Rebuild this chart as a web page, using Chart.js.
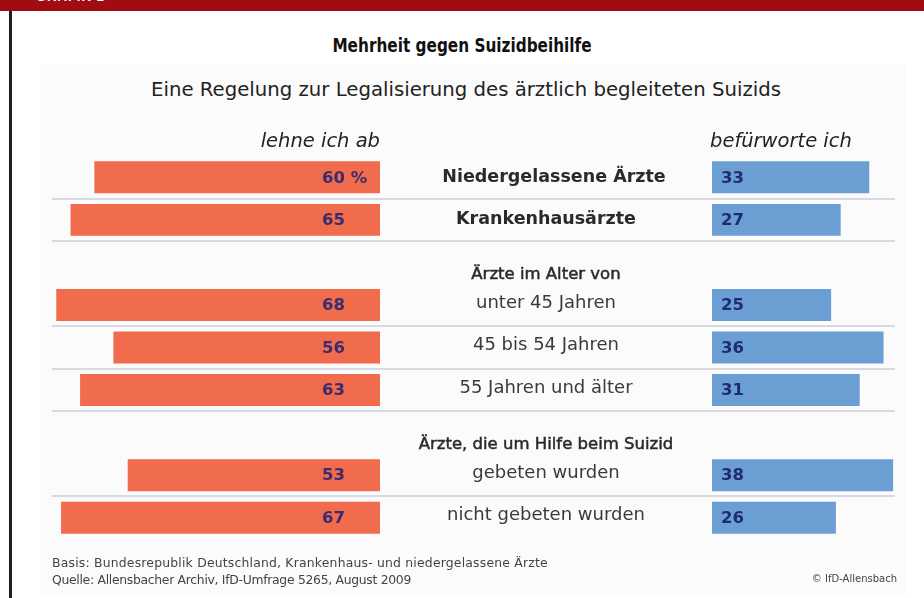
<!DOCTYPE html>
<html lang="de">
<head>
<meta charset="utf-8">
<title>Mehrheit gegen Suizidbeihilfe</title>
<script src="https://cdn.jsdelivr.net/npm/chart.js@4.4.1/dist/chart.umd.min.js"></script>
<style>
html, body { margin: 0; padding: 0; background: #fff; }
#wrap { position: relative; width: 924px; height: 598px; overflow: hidden; background: #fff; font-family: "DejaVu Sans", sans-serif; }
#band { position: absolute; left: 0; top: 0; width: 924px; height: 11px; background: #a00c12; overflow: hidden; }
#band span { position: absolute; left: 36px; top: -10px; color: #fff; font: bold 13px/13px "Liberation Sans", sans-serif; letter-spacing: 1px; }
#rand { position: absolute; left: 9px; top: 11px; width: 3px; height: 587px; background: #1e1e1e; }
#panel { position: absolute; left: 40px; top: 64px; width: 865px; height: 532px; background: #fbfbfb; }
.t { position: absolute; white-space: nowrap; }
#titel { left: 0; width: 924px; top: 33px; text-align: center; color: #111; font: bold 20px "DejaVu Sans Condensed", sans-serif; transform: scaleX(0.85); }
#untertitel { left: 4px; width: 924px; top: 78px; text-align: center; color: #222; font: 19.7px "DejaVu Sans", sans-serif; }
.fuss { left: 52px; color: #444; font: 12.4px "DejaVu Sans", sans-serif; }
#copy { right: 27px; top: 573px; color: #444; font: 10px "DejaVu Sans", sans-serif; }
canvas { position: absolute; left: 0; top: 0; }
</style>
</head>
<body>
<div id="wrap">
  <div id="band"><span>GRAFIK 1</span></div>
  <div id="rand"></div>
  <div id="panel"></div>
  <div class="t" id="titel">Mehrheit gegen Suizidbeihilfe</div>
  <div class="t" id="untertitel">Eine Regelung zur Legalisierung des ärztlich begleiteten Suizids</div>
  <canvas id="chart" width="924" height="598"></canvas>
  <div class="t fuss" style="top:555px; letter-spacing:0.2px">Basis: Bundesrepublik Deutschland, Krankenhaus- und niedergelassene Ärzte</div>
  <div class="t fuss" style="top:572px; letter-spacing:-0.3px">Quelle: Allensbacher Archiv, IfD-Umfrage 5265, August 2009</div>
  <div class="t" id="copy">© IfD-Allensbach</div>
</div>
<script>
// ---------- Daten ----------
const kategorien = [
  'Niedergelassene Ärzte',
  'Krankenhausärzte',
  'Ärzte im Alter von',
  'unter 45 Jahren',
  '45 bis 54 Jahren',
  '55 Jahren und älter',
  'Ärzte, die um Hilfe beim Suizid',
  'gebeten wurden',
  'nicht gebeten wurden'
];
// null = Zwischenüberschrift ohne Balken
const lehneAb = [60, 65, null, 68, 56, 63, null, 53, 67];
const befuerworte = [33, 27, null, 25, 36, 31, null, 38, 26];
const spaltenTitel = ['lehne ich ab', 'befürworte ich'];

// ---------- Hilfsfunktionen ----------
const istKopf = i => lehneAb[i] === null;
const ersterKopf = lehneAb.indexOf(null);

const ORANGE = '#f16b4d';
const BLAU = '#6b9fd3';

const beschriftung = {
  id: 'beschriftung',
  beforeDatasetsDraw(chart) {
    const { ctx, chartArea, scales: { y } } = chart;
    ctx.save();
    ctx.strokeStyle = '#d9d9e4';
    ctx.lineWidth = 2;
    kategorien.forEach((k, i) => {
      if (istKopf(i) || i === kategorien.length - 1) return;
      const yy = Math.round((y.getPixelForValue(i) + y.getPixelForValue(i + 1)) / 2);
      ctx.beginPath();
      ctx.moveTo(chartArea.left, yy);
      ctx.lineTo(chartArea.right, yy);
      ctx.stroke();
    });
    ctx.restore();
  },
  afterDatasetsDraw(chart) {
    const { ctx, scales: { y, xL, xM, xR } } = chart;
    const mitte = (xM.left + xM.right) / 2;
    ctx.save();
    ctx.textBaseline = 'middle';

    // Spaltenköpfe
    ctx.fillStyle = '#222';
    ctx.font = 'oblique 19.5px "DejaVu Sans", sans-serif';
    const kopfY = y.getPixelForValue(0) - 35;
    ctx.textAlign = 'right';
    ctx.fillText(spaltenTitel[0], xL.right, kopfY);
    ctx.textAlign = 'left';
    ctx.fillText(spaltenTitel[1], xR.left - 2, kopfY);

    // mittlere Beschriftungen
    kategorien.forEach((k, i) => {
      const yy = y.getPixelForValue(i);
      ctx.textAlign = 'center';
      ctx.fillStyle = '#2a2a2a';
      if (istKopf(i)) {
        const ky = y.getPixelForValue(i + 1) - 30;
        ctx.font = '16.5px "DejaVu Sans", sans-serif';
        ctx.lineWidth = 0.5;
        ctx.strokeStyle = '#2a2a2a';
        ctx.fillText(k, mitte, ky);
        ctx.strokeText(k, mitte, ky);
      } else if (i < ersterKopf) {
        ctx.font = 'bold 17.5px "DejaVu Sans", sans-serif';
        ctx.fillText(k, mitte + (i === 0 ? 8 : 0), yy);
      } else {
        ctx.fillStyle = '#3a3a3a';
        ctx.font = '18px "DejaVu Sans", sans-serif';
        ctx.fillText(k, mitte, yy - 2);
      }
    });

    // Werte in den Balken
    ctx.font = 'bold 16.5px "DejaVu Sans", sans-serif';
    chart.getDatasetMeta(0).data.forEach((bar, i) => {
      if (lehneAb[i] === null) return;
      ctx.fillStyle = '#3a2c6e';
      ctx.textAlign = 'right';
      ctx.fillText(String(lehneAb[i]), bar.base - 35, bar.y + 1);
      if (i === 0) {
        ctx.textAlign = 'left';
        ctx.fillText(' %', bar.base - 35, bar.y + 1);
      }
    });
    chart.getDatasetMeta(1).data.forEach((bar, i) => {
      if (befuerworte[i] === null) return;
      ctx.fillStyle = '#1f2b72';
      ctx.textAlign = 'left';
      ctx.fillText(String(befuerworte[i]), bar.base + 9, bar.y + 1);
    });
    ctx.restore();
  }
};

const versteckt = { display: false };
function achse(extra) {
  return Object.assign({
    type: 'linear',
    position: 'bottom',
    stack: 'breite',
    min: 0,
    grid: versteckt,
    border: versteckt,
    ticks: versteckt
  }, extra);
}

new Chart(document.getElementById('chart').getContext('2d'), {
  type: 'bar',
  data: {
    labels: kategorien,
    datasets: [
      {
        label: spaltenTitel[0],
        data: lehneAb,
        xAxisID: 'xL',
        backgroundColor: ORANGE,
        grouped: false,
        categoryPercentage: 1,
        barPercentage: 0.75
      },
      {
        label: spaltenTitel[1],
        data: befuerworte,
        xAxisID: 'xR',
        backgroundColor: BLAU,
        grouped: false,
        categoryPercentage: 1,
        barPercentage: 0.75
      }
    ]
  },
  options: {
    indexAxis: 'y',
    responsive: false,
    animation: false,
    devicePixelRatio: 1,
    events: [],
    layout: { padding: { left: 44, right: 29, top: 156, bottom: 51 } },
    plugins: { legend: { display: false }, tooltip: { enabled: false } },
    scales: {
      y: {
        type: 'category',
        grid: versteckt,
        border: versteckt,
        ticks: versteckt
      },
      xL: achse({ reverse: true, max: 68.9, stackWeight: 328 }),
      xM: achse({ max: 1, stackWeight: 332 }),
      xR: achse({ max: 38.4, stackWeight: 183 })
    }
  },
  plugins: [beschriftung]
});
</script>
</body>
</html>
